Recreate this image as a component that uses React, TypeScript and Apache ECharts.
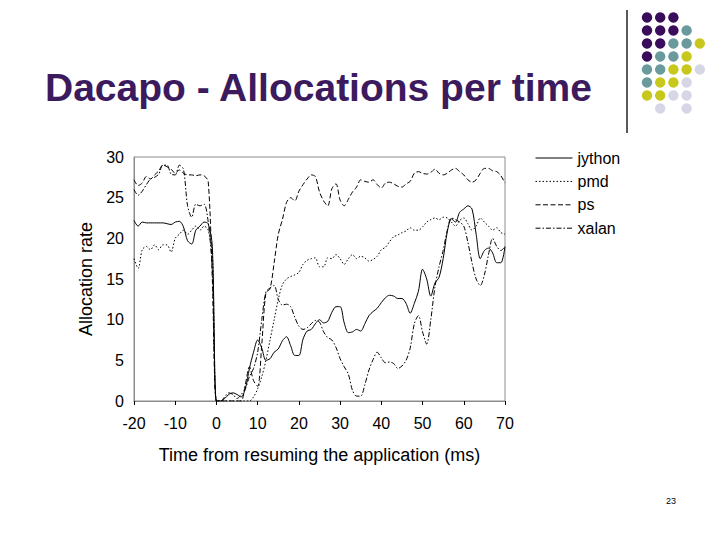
import React, { useEffect, useRef } from "react";
import * as echarts from "echarts";

const times = [
  -20, -19, -18, -17, -16, -15, -14, -13, -12, -11, -10, -9, -8, -7, -6, -5, -4, -3, -2, -1,
  0, 1, 2, 3, 4, 5, 6, 7, 8, 9, 10, 11, 12, 13, 14, 15, 16, 17, 18, 19, 20,
  21, 22, 23, 24, 25, 26, 27, 28, 29, 30, 31, 32, 33, 34, 35, 36, 37, 38, 39, 40,
  41, 42, 43, 44, 45, 46, 47, 48, 49, 50, 51, 52, 53, 54, 55, 56, 57, 58, 59, 60,
  61, 62, 63, 64, 65, 66, 67, 68, 69, 70,
];

const jython = [
  22.2, 21.5, 22.0, 21.9, 21.9, 21.9, 21.9, 21.9, 21.8, 21.7, 22.0, 22.1, 21.4, 19.7, 19.3, 21.0, 21.5, 22.0, 21.8, 19.0,
  0, 0, 0.3, 0.8, 1.0, 0.8, 0.5, 1.5, 4.0, 6.0, 7.5, 6.5, 5.0, 5.2, 6.0, 6.4, 7.4, 7.9, 6.8, 5.6, 5.6,
  7.6, 8.6, 8.8, 9.5, 10.0, 9.6, 9.8, 10.9, 11.6, 11.6, 9.6, 8.4, 8.5, 8.8, 8.6, 9.5, 10.5, 11.0, 11.4, 12.1,
  12.7, 13.0, 12.9, 12.6, 12.6, 12.0, 10.8, 12.0, 13.5, 16.2, 15.0, 12.9, 14.5, 15.2, 17.5, 20.8, 22.4, 22.0, 23.2, 23.6,
  24.0, 23.6, 20.5, 17.5, 18.5, 18.8, 18.2, 17.0, 17.0, 19.0,
];

const pmd = [
  17.5, 16.3, 18.6, 19.0, 18.6, 19.2, 18.6, 19.2, 19.2, 18.3, 20.0, 20.5, 21.0, 20.5, 21.0, 21.5, 21.0, 21.5, 21.0, 18.0,
  0, 0, 0, 0, 0, 0, 0, 0, 0, 0.5, 1.5, 3.0, 5.0, 7.5, 10.0, 12.5, 14.3, 15.0, 15.3, 15.5, 15.8,
  16.8, 17.3, 17.5, 17.6, 16.5, 16.5, 17.6, 17.5, 18.0, 17.5, 16.8, 17.5, 18.0, 17.5, 17.8, 17.6, 17.2, 17.4, 17.8, 18.6,
  18.9, 19.6, 20.2, 20.4, 20.7, 20.9, 21.3, 21.0, 21.0, 21.4, 22.0, 22.3, 22.5, 22.3, 22.6, 22.5, 22.0, 21.5, 22.2, 22.5,
  21.8, 21.0, 21.5, 22.5, 22.0, 21.5, 21.0, 21.3, 20.7, 20.5,
];

const ps = [
  27.2, 26.5, 26.8, 27.6, 27.3, 27.8, 28.3, 29.0, 28.8, 28.5, 28.0, 28.4, 28.0, 27.8, 27.8, 27.7, 27.8, 27.7, 27.0, 15.0,
  0, 0, 0, 0, 0, 0, 0, 2.0, 4.2, 2.5, 1.8, 7.0, 13.3, 13.8, 17.0, 20.5, 22.3, 24.4, 25.0, 24.6, 25.8,
  26.6, 27.3, 27.8, 27.6, 25.7, 24.6, 24.0, 26.1, 26.7, 24.7, 24.0, 24.8, 25.7, 26.3, 27.2, 27.0, 26.9, 27.2, 26.6, 26.2,
  26.8, 26.9, 26.7, 26.4, 26.3, 26.7, 27.0, 28.0, 28.2, 28.0, 27.9, 28.1, 28.5, 28.0, 27.8, 28.0, 28.4, 28.6, 28.2, 27.8,
  27.2, 26.9, 27.2, 28.0, 28.6, 28.6, 28.3, 28.2, 27.7, 26.8,
];

const xalan = [
  26.0, 25.3, 25.8, 26.6, 27.3, 27.5, 27.9, 29.0, 29.0, 27.9, 27.8, 29.0, 28.5, 24.0, 22.6, 24.2, 24.0, 24.2, 22.0, 16.0,
  0, 0, 0.5, 1.0, 0.8, 0.3, 0.8, 1.5, 3.0, 4.0, 6.0, 10.0, 13.4, 13.9, 14.2, 12.5, 11.8, 11.9, 11.6, 10.3, 9.2,
  8.8, 9.0, 9.5, 9.9, 9.7, 8.5, 7.8, 7.5, 6.6, 5.2, 4.2, 3.3, 1.3, 0.6, 0.6, 2.0, 3.8, 5.1, 6.0, 5.3,
  4.7, 4.8, 4.6, 4.0, 4.3, 5.0, 6.5, 9.5, 10.5, 8.5, 7.0, 10.0, 14.0, 16.5, 18.5, 21.0, 22.5, 22.3, 22.0, 21.5,
  19.5, 17.0, 15.0, 14.2, 15.5, 18.0, 20.0, 19.0, 18.5, 19.0,
];

const seriesNames = ["jython", "pmd", "ps", "xalan"];
const seriesValues = [jython, pmd, ps, xalan];
const seriesDashes: any[] = ["solid", [1.5, 2], [5, 2.5], [5, 2, 1.5, 2]];

const dotColors = ["#3a0c5c", "#6a9a9c", "#c8c81c", "#d6d6e6"];
// rows of the logo: codes index into dotColors, -1 = empty
const dotRows = [
  [0, 0, 0, -1, -1],
  [0, 0, 0, 1, -1],
  [0, 0, 1, 1, 2],
  [0, 1, 1, 2, -1],
  [1, 1, 2, 2, 3],
  [1, 2, 2, 3, -1],
  [2, 2, 3, 3, -1],
  [-1, 3, -1, 3, -1],
];

const FONT = "Liberation Sans, Arial, sans-serif";

export default function App() {
  const ref = useRef<HTMLDivElement>(null);
  useEffect(() => {
    if (!ref.current) return;
    const chart = echarts.init(ref.current, undefined, { renderer: "svg" });

    const dots: any[] = [];
    dotRows.forEach((row, r) => {
      row.forEach((c, col) => {
        if (c < 0) return;
        dots.push({
          type: "circle",
          shape: { cx: 647 + col * 13.2, cy: 17.5 + r * 13.0, r: 5.2 },
          style: { fill: dotColors[c] },
          silent: true,
        });
      });
    });

    chart.setOption({
      animation: false,
      backgroundColor: "#ffffff",
      title: {
        text: "Dacapo - Allocations per time",
        left: 45,
        top: 68,
        padding: 0,
        textStyle: { fontSize: 39, fontWeight: "bold", color: "#3c1a5e", fontFamily: FONT },
      },
      legend: {
        orient: "vertical",
        left: 535,
        top: 150,
        padding: 0,
        itemWidth: 37,
        itemHeight: 14,
        itemGap: 7.4,
        itemStyle: { opacity: 0 },
        lineStyle: { width: 1 },
        textStyle: { fontSize: 16, color: "#000", fontFamily: FONT },
        data: seriesNames,
      },
      grid: {
        left: 134,
        top: 157,
        right: 215,
        bottom: 139,
        show: true,
        borderColor: "#8c8c8c",
        borderWidth: 1,
      },
      xAxis: {
        type: "value",
        min: -20,
        max: 70,
        interval: 10,
        name: "Time from resuming the application (ms)",
        nameLocation: "middle",
        nameGap: 45,
        nameTextStyle: { fontSize: 18, color: "#000", fontFamily: FONT },
        axisLine: { show: true, onZero: false, lineStyle: { color: "#8c8c8c" } },
        axisTick: { show: true, inside: false, length: 4, lineStyle: { color: "#000" } },
        axisLabel: { fontSize: 16, color: "#000", fontFamily: FONT, margin: 14 },
        splitLine: { show: false },
      },
      yAxis: {
        type: "value",
        min: 0,
        max: 30,
        interval: 5,
        name: "Allocation rate",
        nameLocation: "middle",
        nameGap: 38,
        nameTextStyle: { fontSize: 18, color: "#000", fontFamily: FONT },
        axisLine: { show: true, onZero: false, lineStyle: { color: "#8c8c8c" } },
        axisTick: { show: false },
        axisLabel: { fontSize: 16, color: "#000", fontFamily: FONT, margin: 10 },
        splitLine: { show: false },
      },
      series: seriesNames.map((name, i) => ({
        name,
        type: "line",
        data: times.map((t, k) => [t, seriesValues[i][k]]),
        symbol: "none",
        smooth: 0.3,
        lineStyle: { color: "#000", width: 1, type: seriesDashes[i] },
        itemStyle: { color: "#000" },
      })),
      graphic: [
        {
          type: "line",
          shape: { x1: 627, y1: 10, x2: 627, y2: 133 },
          style: { stroke: "#222", lineWidth: 1.5 },
          silent: true,
        },
        ...dots,
        {
          type: "text",
          x: 666,
          y: 496,
          style: { text: "23", fontSize: 9, fill: "#000", fontFamily: FONT },
          silent: true,
        },
      ],
    });
    return () => chart.dispose();
  }, []);
  return (
    <div
      ref={ref}
      style={{ position: "fixed", left: 0, top: 0, width: 720, height: 540, background: "#fff" }}
    />
  );
}
